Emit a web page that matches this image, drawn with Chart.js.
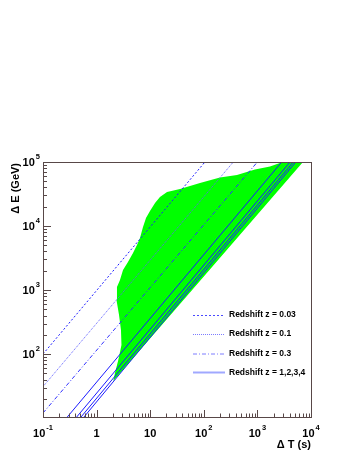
<!DOCTYPE html>
<html>
<head>
<meta charset="utf-8">
<script src="https://cdn.jsdelivr.net/npm/chart.js@4"></script>
<style>
  body { margin: 0; background: #fff; }
  canvas { display: block; }
</style>
</head>
<body>
<canvas id="lagChart" width="354" height="458"></canvas>
<script>
// Allowed region (green band): delta T (s) and delta E (GeV)
const bandT = [2.05, 2.20, 2.54, 2.91, 2.85, 2.62, 2.35, 2.40, 2.73, 3.11, 3.85, 4.78, 5.67,
  6.45, 7.34, 8.35, 9.91, 12.3, 15.2, 20.6, 36.0, 84.9, 200, 416, 901, 1717, 3500, 9190, 2.05];
const bandE = [37.8, 50.5, 80.5, 138, 237, 406, 698, 1114, 1432, 2054, 2738, 3786, 5048,
  6494, 9640, 13335, 17140, 22860, 28380, 33980, 37850, 46990, 57300, 62680, 76380, 85090,
  105000, 128600, 37.8];

// Redshift lines, two end points each (delta T, delta E)
const z003T = [0.1, 105];     const z003E = [100, 100000];
const z01T = [0.1, 355];      const z01E = [31, 100000];
const z03T = [0.1, 1000];     const z03E = [12, 100000];
const z1T = [0.284, 2838];    const z2T = [0.425, 4055];
const z3T = [0.512, 4677];    const z4T = [0.582, 5188];
const zHighE = [10.4, 100000];

const legendLabels = ['Redshift z = 0.03', 'Redshift z = 0.1', 'Redshift z = 0.3', 'Redshift z = 1,2,3,4'];

// Axis ticks
const xRange = [0.1, 10000];
const yRange = [10.4, 100000];
const xMajor = [0.1, 1, 10, 100, 1000, 10000];
const xTickLabels = [['10', '-1'], ['1', ''], ['10', ''], ['10', '2'], ['10', '3'], ['10', '4']];
const yMajor = [100, 1000, 10000, 100000];
const yTickLabels = [['10', '2'], ['10', '3'], ['10', '4'], ['10', '5']];

const pts = (xs, ys) => xs.map((x, i) => ({ x: x, y: ys[i] }));

function lineSet(xs, ys, color, dash) {
  return {
    data: pts(xs, ys), showLine: true, fill: false, borderColor: color,
    borderWidth: 1, borderDash: dash, pointRadius: 0, order: 0
  };
}

const FONT = '"Liberation Sans", Arial, Helvetica, sans-serif';
const AXIS = '#584848';

function minorTicks(lo, hi) {
  const out = [];
  for (let d = Math.pow(10, Math.floor(Math.log10(lo))); d < hi; d *= 10) {
    for (let m = 2; m <= 9; m++) {
      const v = m * d;
      if (v > lo && v < hi) out.push(v);
    }
  }
  return out;
}

function drawPow(ctx, base, exp, x, y, align) {
  ctx.font = 'bold 11px ' + FONT;
  const wb = ctx.measureText(base).width;
  ctx.font = 'bold 7.5px ' + FONT;
  const we = exp ? ctx.measureText(exp).width + 1 : 0;
  const total = wb + we;
  let x0 = align === 'right' ? x - total : x - total / 2;
  ctx.textAlign = 'left';
  ctx.textBaseline = 'middle';
  ctx.font = 'bold 11px ' + FONT;
  ctx.fillText(base, x0, y);
  if (exp) {
    ctx.font = 'bold 7.5px ' + FONT;
    ctx.fillText(exp, x0 + wb + 1, y - 6);
  }
}

const framePlugin = {
  id: 'rootFrame',
  afterDraw(chart) {
    const ctx = chart.ctx;
    const a = chart.chartArea;
    const xs = chart.scales.x, ys = chart.scales.y;
    ctx.save();
    ctx.strokeStyle = AXIS;
    ctx.lineWidth = 1;
    ctx.strokeRect(a.left + 0.5, a.top + 0.5, a.right - a.left, a.bottom - a.top);

    // ticks inside the frame
    ctx.beginPath();
    xMajor.forEach(v => {
      const p = Math.round(xs.getPixelForValue(v)) + 0.5;
      ctx.moveTo(p, a.bottom); ctx.lineTo(p, a.bottom - 7);
    });
    minorTicks(xRange[0], xRange[1]).forEach(v => {
      const p = Math.round(xs.getPixelForValue(v)) + 0.5;
      ctx.moveTo(p, a.bottom); ctx.lineTo(p, a.bottom - 3.5);
    });
    yMajor.forEach(v => {
      const p = Math.round(ys.getPixelForValue(v)) + 0.5;
      ctx.moveTo(a.left, p); ctx.lineTo(a.left + 8, p);
    });
    minorTicks(yRange[0], yRange[1]).forEach(v => {
      const p = Math.round(ys.getPixelForValue(v)) + 0.5;
      ctx.moveTo(a.left, p); ctx.lineTo(a.left + 4, p);
    });
    ctx.stroke();

    // tick labels
    ctx.fillStyle = '#000';
    xMajor.forEach((v, i) => {
      drawPow(ctx, xTickLabels[i][0], xTickLabels[i][1], xs.getPixelForValue(v), a.bottom + 17, 'center');
    });
    yMajor.forEach((v, i) => {
      drawPow(ctx, yTickLabels[i][0], yTickLabels[i][1], a.left - 3, ys.getPixelForValue(v) + 1, 'right');
    });

    // axis titles
    ctx.font = 'bold 11px ' + FONT;
    ctx.textBaseline = 'middle';
    ctx.textAlign = 'right';
    ctx.fillText('\u0394 T (s)', a.right, a.bottom + 28);
    ctx.translate(16, a.top + 1);
    ctx.rotate(-Math.PI / 2);
    ctx.fillText('\u0394 E (GeV)', 0, 0);
    ctx.restore();

    // legend
    ctx.save();
    const legStyles = [
      { color: '#4a4aff', dash: [2, 2], w: 1 },
      { color: '#7c7cff', dash: [1, 1], w: 1 },
      { color: '#7c7cff', dash: [4, 2, 1, 2], w: 1 },
      { color: '#a0a8ff', dash: [], w: 2 }
    ];
    const legY = [315, 334, 353.5, 372.5];
    legendLabels.forEach((t, i) => {
      const s = legStyles[i];
      ctx.strokeStyle = s.color;
      ctx.lineWidth = s.w;
      ctx.setLineDash(s.dash);
      ctx.beginPath();
      ctx.moveTo(193, legY[i] + (s.w === 1 ? 0.5 : 0));
      ctx.lineTo(225, legY[i] + (s.w === 1 ? 0.5 : 0));
      ctx.stroke();
      ctx.setLineDash([]);
      ctx.fillStyle = '#000';
      ctx.font = 'bold 8.5px ' + FONT;
      ctx.textAlign = 'left';
      ctx.textBaseline = 'middle';
      ctx.fillText(t, 229, legY[i]);
    });
    ctx.restore();
  }
};

new Chart(document.getElementById('lagChart').getContext('2d'), {
  type: 'scatter',
  data: {
    datasets: [
      lineSet(z003T, z003E, '#1c1cff', [2, 2]),
      lineSet(z01T, z01E, '#6060ff', [1, 1]),
      lineSet(z03T, z03E, '#3030ff', [4, 2, 1, 2]),
      lineSet(z1T, zHighE, '#1a1aff', []),
      lineSet(z2T, zHighE, '#1a1aff', []),
      lineSet(z3T, zHighE, '#1a1aff', []),
      lineSet(z4T, zHighE, '#1a1aff', []),
      {
        data: pts(bandT, bandE), showLine: true, fill: 'shape',
        backgroundColor: '#00ff00', borderColor: '#00ff00', borderWidth: 0,
        pointRadius: 0, order: 10
      }
    ]
  },
  options: {
    responsive: false,
    animation: false,
    layout: { padding: { left: 43, top: 162, right: 43, bottom: 41 } },
    scales: {
      x: { type: 'logarithmic', min: xRange[0], max: xRange[1], display: false },
      y: { type: 'logarithmic', min: yRange[0], max: yRange[1], display: false }
    },
    plugins: { legend: { display: false }, tooltip: { enabled: false } }
  },
  plugins: [framePlugin]
});
</script>
</body>
</html>
